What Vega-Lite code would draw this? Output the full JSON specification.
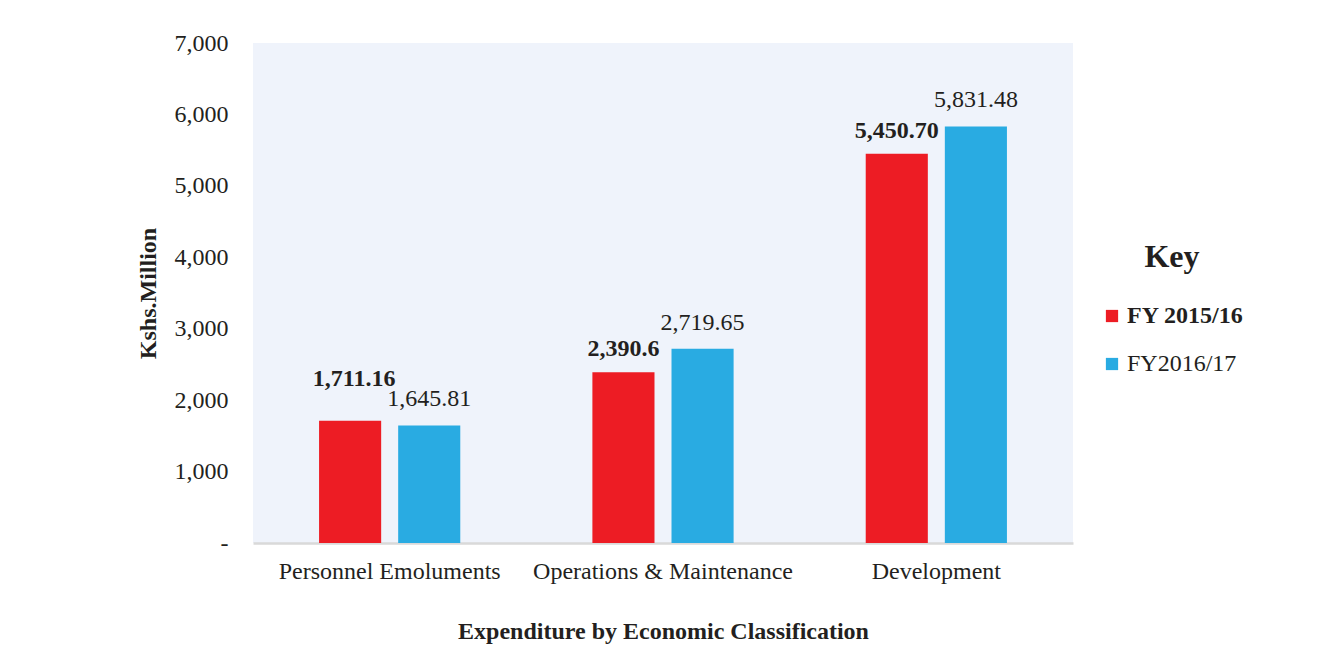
{
  "$schema": "https://vega.github.io/schema/vega-lite/v6.json",
  "width": 820,
  "height": 500,
  "autosize": {"type": "none"},
  "padding": {"left": 253, "top": 43, "right": 252, "bottom": 114},
  "background": "white",
  "config": {
    "font": "Liberation Serif",
    "view": {"fill": "#EFF3FB", "stroke": null},
    "axis": {"labelColor": "#231F20", "titleColor": "#231F20", "labelFont": "Liberation Serif", "titleFont": "Liberation Serif"}
  },
  "data": {
    "values": [
      {"category": "Personnel Emoluments", "year": "FY 2015/16", "value": 1711.16, "label": "1,711.16"},
      {"category": "Personnel Emoluments", "year": "FY2016/17", "value": 1645.81, "label": "1,645.81"},
      {"category": "Operations & Maintenance", "year": "FY 2015/16", "value": 2390.6, "label": "2,390.6"},
      {"category": "Operations & Maintenance", "year": "FY2016/17", "value": 2719.65, "label": "2,719.65"},
      {"category": "Development", "year": "FY 2015/16", "value": 5450.70, "label": "5,450.70"},
      {"category": "Development", "year": "FY2016/17", "value": 5831.48, "label": "5,831.48"}
    ]
  },
  "encoding": {
    "x": {
      "field": "category", "type": "nominal", "sort": null,
      "scale": {"paddingInner": 0, "paddingOuter": 0},
      "axis": {
        "title": "Expenditure by Economic Classification",
        "titleFontSize": 24, "titleFontWeight": "bold", "titlePadding": 36,
        "labelFontSize": 24, "labelAngle": 0, "labelPadding": 16, "labelOverlap": false, "labelBound": false, "labelLimit": 0,
        "ticks": false, "domainColor": "#D9D9D9", "domainWidth": 2.5
      }
    },
    "xOffset": {"field": "year", "type": "nominal", "scale": {"paddingInner": 0.215, "paddingOuter": 0.835}},
    "y": {
      "field": "value", "type": "quantitative",
      "scale": {"domain": [0, 7000], "nice": false},
      "axis": {
        "title": "Kshs.Million", "titleFontSize": 24, "titleFontWeight": "bold", "titlePadding": 14,
        "labelFontSize": 24, "labelPadding": 25, "values": [0, 1000, 2000, 3000, 4000, 5000, 6000, 7000],
        "labelOverlap": false, "labelBound": false,
        "labelExpr": "datum.value == 0 ? '-' : format(datum.value, ',')",
        "grid": false, "ticks": false, "domain": false
      }
    },
    "color": {
      "field": "year", "type": "nominal",
      "scale": {"domain": ["FY 2015/16", "FY2016/17"], "range": ["#ED1C24", "#29ABE2"]},
      "legend": {
        "title": "Key", "orient": "none", "legendX": 847, "legendY": 199,
        "titleFontSize": 32, "titleFontWeight": "bold", "titleColor": "#231F20", "titleFont": "Liberation Serif",
        "titleAnchor": "middle", "titlePadding": 30,
        "labelFontSize": 24, "labelColor": "#231F20", "labelFont": "Liberation Serif", "labelLimit": 0,
        "symbolType": "square", "symbolSize": 150, "symbolStrokeWidth": 0, "rowPadding": 24, "labelOffset": 3,
        "encode": {"labels": {"update": {"fontWeight": {"signal": "datum.label == 'FY 2015/16' ? 'bold' : 'normal'"}}}}
      }
    }
  },
  "layer": [
    {"mark": {"type": "bar"}},
    {
      "transform": [{"filter": "datum.year == 'FY 2015/16' && datum.category != 'Personnel Emoluments'"}],
      "mark": {"type": "text", "baseline": "bottom", "dy": -11, "fontSize": 24, "fontWeight": "bold", "color": "#231F20", "font": "Liberation Serif"},
      "encoding": {"text": {"field": "label"}, "color": {"value": "#231F20"}}
    },
    {
      "transform": [{"filter": "datum.year == 'FY 2015/16' && datum.category == 'Personnel Emoluments'"}],
      "mark": {"type": "text", "baseline": "bottom", "dy": -30, "dx": 4, "fontSize": 24, "fontWeight": "bold", "color": "#231F20", "font": "Liberation Serif"},
      "encoding": {"text": {"field": "label"}, "color": {"value": "#231F20"}}
    },
    {
      "transform": [{"filter": "datum.year == 'FY2016/17'"}],
      "mark": {"type": "text", "baseline": "bottom", "dy": -14, "fontSize": 24, "fontWeight": "normal", "color": "#231F20", "font": "Liberation Serif"},
      "encoding": {"text": {"field": "label"}, "color": {"value": "#231F20"}}
    }
  ]
}
